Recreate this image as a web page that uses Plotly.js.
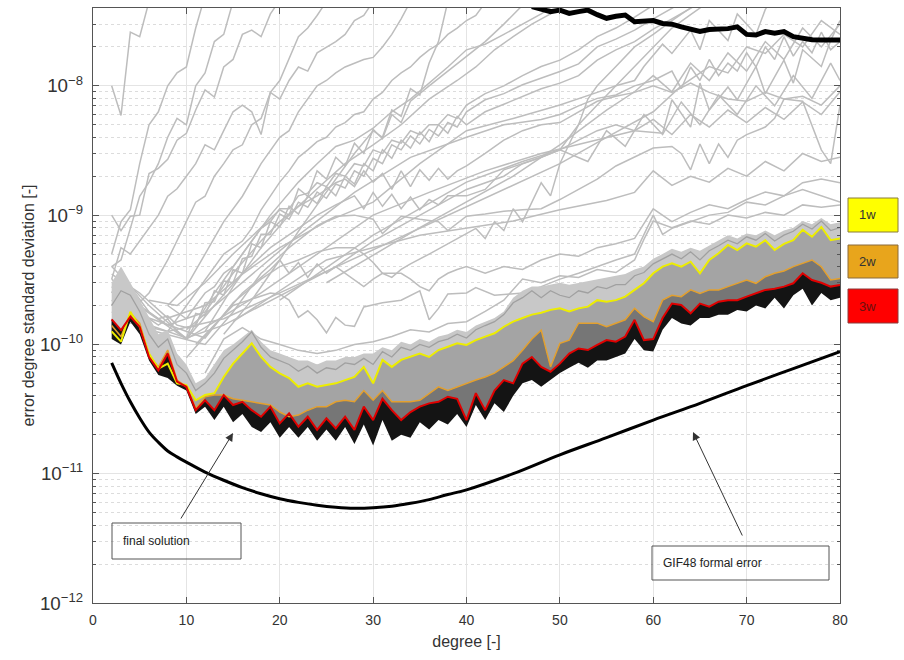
<!DOCTYPE html>
<html>
<head>
<meta charset="utf-8">
<script src="https://cdn.plot.ly/plotly-3.0.1.min.js"></script>
<style>html,body{margin:0;padding:0;background:#fff;}#chart{width:904px;height:660px;}</style>
</head>
<body>
<div id="chart"></div>
<script>
// ---------- data (degree vs error degree standard deviation) ----------
const deg = [2,3,4,5,6,7,8,9,10,11,12,13,14,15,16,17,18,19,20,21,22,23,24,25,26,27,28,29,30,31,32,33,34,35,36,37,38,39,40,41,42,43,44,45,46,47,48,49,50,51,52,53,54,55,56,57,58,59,60,61,62,63,64,65,66,67,68,69,70,71,72,73,74,75,76,77,78,79,80];

const series1w = [1.26e-10,1.05e-10,1.79e-10,1.37e-10,8.5e-11,6.5e-11,7.1e-11,5.0e-11,4.85e-11,3.7e-11,4.06e-11,4.2e-11,5.6e-11,7.1e-11,8.5e-11,1.02e-10,8.0e-11,6.7e-11,5.97e-11,5.5e-11,4.7e-11,5.0e-11,4.7e-11,4.85e-11,5.0e-11,5.3e-11,5.6e-11,6.7e-11,5.0e-11,7.6e-11,6.7e-11,7.6e-11,8.0e-11,8.5e-11,8.0e-11,9.05e-11,9.6e-11,1.02e-10,9.9e-11,1.08e-10,1.15e-10,1.22e-10,1.37e-10,1.5e-10,1.6e-10,1.7e-10,1.76e-10,1.85e-10,1.9e-10,1.8e-10,1.9e-10,1.96e-10,2.2e-10,2.14e-10,2.2e-10,2.34e-10,2.64e-10,2.97e-10,3.55e-10,4.0e-10,4.24e-10,3.99e-10,4.36e-10,3.55e-10,4.5e-10,5.07e-10,5.88e-10,5.37e-10,6.05e-10,5.7e-10,6.4e-10,5.37e-10,6.0e-10,6.4e-10,7.7e-10,6.8e-10,8.1e-10,6.4e-10,6.6e-10];

const series2w = [1.4e-10,1.15e-10,1.74e-10,1.46e-10,8.3e-11,6.7e-11,9.05e-11,5.3e-11,4.7e-11,3.2e-11,3.94e-11,4.06e-11,4.06e-11,3.8e-11,3.7e-11,3.6e-11,3.5e-11,3.4e-11,3.0e-11,2.76e-11,2.84e-11,3.1e-11,3.3e-11,3.3e-11,3.6e-11,3.7e-11,3.6e-11,4.4e-11,3.7e-11,4.4e-11,3.6e-11,3.6e-11,3.6e-11,3.7e-11,4.2e-11,4.7e-11,4.4e-11,4.7e-11,5.0e-11,5.3e-11,5.6e-11,6.0e-11,6.7e-11,7.5e-11,9.0e-11,1.1e-10,1.29e-10,6.7e-11,1.02e-10,1.08e-10,1.46e-10,1.46e-10,1.46e-10,1.37e-10,1.46e-10,1.55e-10,1.9e-10,1.64e-10,1.5e-10,2.2e-10,2.4e-10,2.34e-10,2.64e-10,2.48e-10,2.64e-10,2.64e-10,2.8e-10,2.97e-10,3.15e-10,2.97e-10,3.34e-10,3.55e-10,3.7e-10,4.0e-10,4.24e-10,4.5e-10,3.99e-10,3.15e-10,3.24e-10];

const series3w = [1.56e-10,1.29e-10,1.64e-10,1.37e-10,8.0e-11,6.3e-11,8.5e-11,5.15e-11,4.7e-11,3.1e-11,3.7e-11,3.1e-11,4.06e-11,3.4e-11,3.6e-11,3.1e-11,2.76e-11,3.3e-11,2.45e-11,2.93e-11,2.31e-11,2.76e-11,2.18e-11,2.68e-11,2.24e-11,2.76e-11,2.18e-11,3.3e-11,2.6e-11,3.8e-11,3.1e-11,2.6e-11,3.0e-11,3.3e-11,3.5e-11,3.6e-11,3.94e-11,3.8e-11,2.6e-11,4.2e-11,3.1e-11,4.4e-11,5.3e-11,5.0e-11,7.1e-11,8.0e-11,6.7e-11,6.15e-11,7.1e-11,8.5e-11,9.3e-11,9.05e-11,9.9e-11,1.08e-10,1.05e-10,1.15e-10,1.55e-10,1.08e-10,1.1e-10,1.6e-10,2.07e-10,2.02e-10,1.74e-10,2.07e-10,1.96e-10,2.14e-10,2.2e-10,2.2e-10,2.34e-10,2.5e-10,2.64e-10,2.7e-10,2.8e-10,2.97e-10,3.55e-10,3.15e-10,3.0e-10,2.8e-10,2.88e-10];

// upper edge of the dense bundle of intermediate solutions
const bundleTop = [3.0e-10,4.0e-10,3.0e-10,2.2e-10,1.6e-10,1.2e-10,1.3e-10,8.5e-11,7.0e-11,5.0e-11,5.5e-11,7.0e-11,9.0e-11,1.0e-10,1.15e-10,1.3e-10,1.05e-10,9.0e-11,8.5e-11,8.0e-11,7.5e-11,7.5e-11,7.0e-11,7.5e-11,7.5e-11,8.0e-11,8.0e-11,8.5e-11,8.5e-11,9.5e-11,9.0e-11,1.05e-10,1.0e-10,1.1e-10,1.05e-10,1.15e-10,1.2e-10,1.3e-10,1.25e-10,1.4e-10,1.5e-10,1.6e-10,1.8e-10,2.3e-10,2.6e-10,2.8e-10,2.8e-10,2.9e-10,3.0e-10,2.9e-10,3.0e-10,3.1e-10,3.2e-10,3.3e-10,3.4e-10,3.5e-10,3.8e-10,4.0e-10,4.6e-10,5.0e-10,5.5e-10,5.2e-10,5.6e-10,5.3e-10,5.8e-10,6.3e-10,7.0e-10,6.6e-10,7.2e-10,7.0e-10,7.6e-10,7.0e-10,7.6e-10,8.0e-10,9.0e-10,8.5e-10,9.5e-10,8.5e-10,8.8e-10];

// lower edge of the darkest (latest) solutions
const bundleBottom = [1.1e-10,1.0e-10,1.5e-10,1.2e-10,7.5e-11,5.8e-11,5.5e-11,4.8e-11,4.4e-11,2.9e-11,3.3e-11,2.6e-11,3.3e-11,2.5e-11,2.9e-11,2.3e-11,2.1e-11,2.5e-11,1.9e-11,2.3e-11,1.9e-11,2.3e-11,1.8e-11,2.2e-11,1.8e-11,2.3e-11,1.7e-11,2.4e-11,1.65e-11,2.6e-11,1.8e-11,2.0e-11,1.9e-11,2.5e-11,2.2e-11,2.6e-11,2.4e-11,2.9e-11,2.3e-11,3.4e-11,2.6e-11,3.5e-11,3.0e-11,4.0e-11,5.0e-11,5.3e-11,4.7e-11,5.3e-11,6.0e-11,6.6e-11,7.2e-11,6.6e-11,7.5e-11,7.5e-11,8.0e-11,8.5e-11,1.1e-10,9.0e-11,8.8e-11,1.3e-10,1.6e-10,1.45e-10,1.4e-10,1.6e-10,1.6e-10,1.7e-10,1.7e-10,1.85e-10,1.8e-10,2.0e-10,1.9e-10,2.3e-10,1.9e-10,2.4e-10,2.7e-10,2.0e-10,2.5e-10,2.2e-10,2.3e-10];

// a gray solution just above the 1w curve
const b1y = [2.0e-10,2.6e-10,2.4e-10,1.8e-10,1.2e-10,9.5e-11,1.1e-10,7.0e-11,6.0e-11,4.4e-11,5.0e-11,6.0e-11,7.8e-11,9.0e-11,1.05e-10,1.25e-10,9.5e-11,8.0e-11,7.5e-11,7.0e-11,6.2e-11,6.8e-11,6.0e-11,6.6e-11,6.4e-11,7.2e-11,7.0e-11,7.8e-11,7.0e-11,8.8e-11,8.0e-11,9.5e-11,9.0e-11,1.0e-10,9.5e-11,1.05e-10,1.1e-10,1.2e-10,1.12e-10,1.3e-10,1.4e-10,1.5e-10,1.7e-10,2.1e-10,2.3e-10,2.6e-10,2.3e-10,2.6e-10,2.4e-10,2.3e-10,2.6e-10,2.5e-10,2.8e-10,2.7e-10,2.9e-10,2.9e-10,3.4e-10,3.6e-10,4.2e-10,4.6e-10,5.0e-10,4.6e-10,5.2e-10,4.5e-10,5.3e-10,5.8e-10,6.4e-10,6.0e-10,6.8e-10,6.4e-10,7.2e-10,6.3e-10,7.0e-10,7.5e-10,8.5e-10,7.8e-10,9.0e-10,7.6e-10,8.0e-10];
// spiky gray solution above the bundle
const b0x = [12,14,16,18,20,22,24,26,28,30,32,34,36,38,40,42,44,46,48,50,52,54,56,58,59,60,62,64,66,68,70,72,74,76,78,80];
const b0y = [6.0e-11,1.1e-10,1.35e-10,1.1e-10,1.0e-10,9.0e-11,8.5e-11,9.0e-11,1.0e-10,1.05e-10,1.15e-10,1.3e-10,1.25e-10,1.45e-10,1.5e-10,1.8e-10,2.2e-10,3.2e-10,3.0e-10,3.4e-10,3.3e-10,3.8e-10,3.6e-10,4.5e-10,6.5e-10,9.0e-10,8.0e-10,9.0e-10,8.5e-10,1.0e-9,9.5e-10,1.05e-9,1.0e-9,1.2e-9,1.15e-9,1.2e-9];

// GIF48 formal error
const gifDeg = [2,3,4,5,6,7,8,9,10,12,14,16,18,20,22,24,26,28,30,32,34,36,38,40,45,50,55,60,65,70,75,80];
const gifErr = [7.2e-11,5.0e-11,3.6e-11,2.7e-11,2.1e-11,1.75e-11,1.5e-11,1.35e-11,1.23e-11,1.03e-11,8.9e-12,7.8e-12,7.0e-12,6.4e-12,6.0e-12,5.7e-12,5.5e-12,5.4e-12,5.45e-12,5.6e-12,5.9e-12,6.3e-12,6.9e-12,7.5e-12,1.0e-11,1.4e-11,1.9e-11,2.6e-11,3.5e-11,4.8e-11,6.5e-11,8.8e-11];

// thick black curve at the top
const topDeg = [47,48,49,50,51,52,53,54,55,56,57,58,59,60,61,62,63,64,65,66,67,68,69,70,71,72,73,74,75,76,77,78,79,80];
const topErr = [4.1e-8,3.95e-8,3.75e-8,3.85e-8,3.63e-8,3.75e-8,3.85e-8,3.55e-8,3.33e-8,3.45e-8,3.53e-8,3.13e-8,3.2e-8,3.2e-8,3.04e-8,3.0e-8,2.86e-8,2.75e-8,2.63e-8,2.73e-8,2.75e-8,2.77e-8,2.86e-8,2.5e-8,2.47e-8,2.63e-8,2.55e-8,2.63e-8,2.4e-8,2.33e-8,2.27e-8,2.26e-8,2.26e-8,2.26e-8];

// individual early solutions (gray)
const g1x = [2,3,4,5,6];
const g1y = [1.0e-8,5.9e-9,2.6e-8,2.4e-8,4.5e-8];
const g2x = [2,3,4,5,6,7,8,9,10,11,12];
const g2y = [5.0e-10,8.9e-10,1.1e-9,2.5e-9,5.0e-9,6.3e-9,1.0e-8,1.26e-8,1.4e-8,2.8e-8,5.0e-8];
const g3x = [2,3,4,5,6,7,8,9,10,11,12,13,14,15];
const g3y = [4.0e-10,4.5e-10,7.9e-10,1.4e-9,1.8e-9,2.5e-9,4.0e-9,5.6e-9,5.0e-9,1.0e-8,1.26e-8,2.2e-8,2.5e-8,4.5e-8];
const g4x = [2,3,4,5,6,7,8,9,10,11,12,13,14,15,16,17,18,19,20,21,22,23,24,25];
const g4y = [3.2e-10,5.6e-10,5.0e-10,6.3e-10,7.9e-10,1.0e-9,1.4e-9,1.6e-9,2.0e-9,2.5e-9,3.5e-9,3.2e-9,4.5e-9,6.3e-9,7.1e-9,6.3e-9,4.2e-9,8.9e-9,1.1e-8,1.6e-8,2.4e-8,2.8e-8,3.5e-8,4.5e-8];
const g5x = [2,3,4,5,6,7,8,9,10,11,12,13,14,15,16,17,18,19,20];
const g5y = [1.0e-9,7.6e-10,9.8e-10,1.0e-9,2.1e-9,2.3e-9,2.7e-9,3.8e-9,4.3e-9,6.5e-9,9.3e-9,8.2e-9,1.4e-8,1.6e-8,2.5e-8,2.7e-8,2.4e-8,3.6e-8,4.6e-8];
const g6x = [4,6,8,10,11,12,13,14,15,16,17,18,19,20,21,22,23,24,25,26,27,28,29,30];
const g6y = [1.8e-10,2.5e-10,4.5e-10,8.9e-10,1.26e-9,1.4e-9,2.0e-9,2.5e-9,3.2e-9,3.5e-9,5.0e-9,5.6e-9,8.9e-9,7.9e-9,1.1e-8,1.4e-8,1.3e-8,1.8e-8,2.0e-8,2.2e-8,2.5e-8,3.2e-8,3.5e-8,4.5e-8];
const g7x = [8,10,12,14,16,18,20,21,22,23,24,25,26,27,28,29,30,31,32,33,34];
const g7y = [2.0e-10,2.8e-10,5.0e-10,8.9e-10,1.4e-9,2.5e-9,4.0e-9,4.5e-9,6.3e-9,7.9e-9,1.0e-8,1.1e-8,1.26e-8,1.4e-8,1.5e-8,1.6e-8,1.66e-8,2.0e-8,2.5e-8,3.3e-8,4.5e-8];
const g8x = [8,10,12,14,16,17,18,19,20,21,22,23,24,25,26,27,28,29,30,31,32,33,34,35,36,37,38,39,40,41,42];
const g8y = [1.26e-10,2.0e-10,3.2e-10,5.0e-10,6.3e-10,7.9e-10,1.1e-9,1.4e-9,1.8e-9,2.2e-9,2.8e-9,3.2e-9,3.7e-9,4.0e-9,4.8e-9,5.2e-9,6.0e-9,6.3e-9,7.9e-9,8.9e-9,1.1e-8,1.26e-8,1.4e-8,1.66e-8,1.9e-8,2.1e-8,2.5e-8,2.8e-8,3.2e-8,3.5e-8,4.4e-8];
const g9x = [10,13,16,19,22,24,26,28,30,32,34,36,38,40,42,44,46,48,50];
const g9y = [1.1e-10,2.5e-10,5.0e-10,1.0e-9,1.8e-9,2.5e-9,3.4e-9,3.8e-9,4.7e-9,6.3e-9,7.9e-9,1.05e-8,1.4e-8,1.9e-8,2.1e-8,2.5e-8,3.0e-8,3.6e-8,4.5e-8];
const g10x = [12,15,18,21,24,27,30,33,36,39,41,43,45,47,49,51];
const g10y = [1.26e-10,2.8e-10,5.6e-10,1.0e-9,1.6e-9,2.5e-9,3.5e-9,5.0e-9,7.9e-9,1.1e-8,1.4e-8,1.9e-8,2.4e-8,3.0e-8,3.6e-8,4.5e-8];
const g11x = [2,3,4,5,6,7,8,9,10,11,12,13,14,15,16,17,18,19,20,21,22,23,24,25,26,27,28,29,30,31,32,33,34,35,36,37,38,39,40,42,44,46,48,50,52,54,56,58,60,62,64];
const g11y = [2.5e-10,3.55e-10,2.8e-10,2.24e-10,1.78e-10,1.58e-10,1.66e-10,1.41e-10,1.35e-10,1.38e-10,2.1e-10,2.14e-10,3.1e-10,3.0e-10,4.6e-10,4.8e-10,7.1e-10,7.1e-10,1.02e-9,9.3e-10,1.26e-9,1.15e-9,1.51e-9,1.35e-9,1.74e-9,1.62e-9,2.2e-9,2.0e-9,2.75e-9,2.5e-9,3.5e-9,3.2e-9,4.1e-9,3.55e-9,4.6e-9,4.1e-9,5.2e-9,4.8e-9,6.3e-9,7.8e-9,8.7e-9,1.02e-8,1.15e-8,1.29e-8,1.48e-8,2.0e-8,2.3e-8,2.7e-8,3.3e-8,4.0e-8,4.8e-8];
const g12x = [2,3,4,5,6,7,8,9,10,11,12,13,14,15,16,17,18,19,20,21,22,23,24,25,26,27,28,29,30,31,32,33,34,35,36,37,38,39,40,42,44,46,48,50,52,54,56,58,60,62,64,66];
const g12y = [2.0e-10,2.8e-10,2.5e-10,1.9e-10,1.58e-10,1.41e-10,1.58e-10,1.26e-10,1.12e-10,1.74e-10,1.66e-10,2.6e-10,2.4e-10,3.8e-10,3.55e-10,6.0e-10,5.6e-10,8.9e-10,8.1e-10,1.17e-9,1.02e-9,1.41e-9,1.23e-9,1.66e-9,1.41e-9,2.0e-9,1.74e-9,2.5e-9,2.2e-9,3.2e-9,2.75e-9,3.8e-9,3.3e-9,4.4e-9,3.7e-9,5.0e-9,4.3e-9,5.8e-9,5.0e-9,6.3e-9,7.2e-9,8.3e-9,9.5e-9,1.05e-8,1.2e-8,1.58e-8,1.9e-8,2.2e-8,2.75e-8,3.3e-8,4.0e-8,4.8e-8];
const g13x = [8,9,10,11,12,13,14,15,16,17,18,19,20,21,22,23,24,25,26,27,28,29,30,31,32,33,34,35,36,37,38,39,40,42,44,46,48,50,52,54,56,58,60];
const g13y = [2.0e-10,1.78e-10,1.58e-10,2.0e-10,2.5e-10,2.8e-10,3.55e-10,4.0e-10,5.0e-10,6.3e-10,7.9e-10,8.9e-10,1.12e-9,1.12e-9,1.41e-9,1.48e-9,1.78e-9,1.66e-9,2.1e-9,2.0e-9,2.5e-9,2.4e-9,3.2e-9,3.0e-9,3.8e-9,3.6e-9,4.5e-9,4.2e-9,5.0e-9,5.0e-9,6.0e-9,5.6e-9,7.1e-9,8.7e-9,1.0e-8,1.2e-8,1.41e-8,1.58e-8,1.9e-8,2.4e-8,2.8e-8,3.4e-8,4.2e-8];
const n1x = [6,9,12,15,18,20,21,22,23,24,25,26,27,28,29,30,31,32,33,34,36,38,40,42,44,46];
const n1y = [2.2e-10,2.0e-10,3.0e-10,5.0e-10,8.0e-10,1.1e-9,1.0e-9,1.6e-9,1.4e-9,2.2e-9,1.9e-9,2.8e-9,2.4e-9,3.6e-9,3.0e-9,4.6e-9,3.9e-9,6.0e-9,5.2e-9,7.6e-9,1.0e-8,1.3e-8,1.7e-8,2.2e-8,3.0e-8,4.2e-8];
const n2x = [10,16,22,28,34,40,44,48,50,52,54,56,58,60,62,63,64,65,66,67,68,69,70,71,72,73,74,75,76,77,78,79,80];
const n2y = [1.3e-10,3.0e-10,7.0e-10,1.5e-9,2.8e-9,4.0e-9,5.0e-9,5.5e-9,6.0e-9,7.0e-9,8.0e-9,8.5e-9,1.0e-8,1.1e-8,1.3e-8,9.5e-9,1.4e-8,1.1e-8,1.6e-8,1.2e-8,1.5e-8,1.3e-8,1.8e-8,1.4e-8,2.0e-8,1.6e-8,2.4e-8,1.7e-8,2.2e-8,1.8e-8,2.6e-8,1.9e-8,2.2e-8];
const n3x = [4,10,18,24,30,36,42,48,54,58,60,62,64,66,68,70,72,74,76,78,80];
const n3y = [2.2e-10,1.1e-10,2.5e-10,5.0e-10,1.0e-9,1.5e-9,2.2e-9,3.0e-9,3.8e-9,4.5e-9,5.5e-9,4.2e-9,6.0e-9,4.8e-9,6.5e-9,5.2e-9,6.8e-9,5.5e-9,7.5e-9,6.0e-9,9.0e-9];
const p1x = [14,17,20,22,24,26,28,30,31,32,33,34,35,36,37,38];
const p1y = [1.2e-10,2.2e-10,4.5e-10,7.5e-10,1.2e-9,1.9e-9,3.0e-9,4.5e-9,4.0e-9,6.5e-9,5.8e-9,9.5e-9,8.5e-9,1.5e-8,2.2e-8,4.5e-8];
const p2x = [20,30,40,46,50,53,55,57,59,61,63,65,67,69,71,73,75,77,79,80];
const p2y = [2.2e-10,7.0e-10,1.8e-9,2.6e-9,3.2e-9,2.6e-9,4.5e-9,3.4e-9,6.0e-9,4.2e-9,7.5e-9,5.0e-9,8.5e-9,6.0e-9,1.0e-8,7.0e-9,1.2e-8,8.0e-9,1.5e-8,1.1e-8];
const p3x = [25,35,45,50,55,58,60,62,64,66,68,70,72,74,76,78,80];
const p3y = [3.0e-10,8.0e-10,2.0e-9,3.5e-9,6.5e-9,9.0e-9,1.2e-8,9.0e-9,1.5e-8,1.1e-8,1.8e-8,1.3e-8,2.2e-8,1.6e-8,2.8e-8,2.0e-8,3.0e-8];
const p4x = [15,25,35,45,50,55,58,60,62,64,66,68,70,72,74,76,78,80];
const p4y = [1.5e-10,4.5e-10,7.0e-10,9.0e-10,1.1e-9,1.3e-9,1.5e-9,2.2e-9,1.7e-9,2.0e-9,1.8e-9,2.3e-9,2.0e-9,2.6e-9,2.2e-9,3.0e-9,2.6e-9,2.8e-9];
const m1x = [2,5,8,12,15,18,20,22,24,26,27,28,29,30,31,32,33,34,35,36,37,38,39,40,42,44,46,48,50,52,54,56,58,60,62,64,66,68,70,72,74,76,78,80];
const m1y = [3.2e-10,2.0e-10,1.41e-10,1.78e-10,3.55e-10,6.3e-10,8.9e-10,1.17e-9,1.41e-9,1.78e-9,1.9e-9,1.66e-9,2.2e-9,1.8e-9,2.1e-9,1.58e-9,2.2e-9,1.66e-9,2.24e-9,1.86e-9,2.3e-9,1.9e-9,2.2e-9,2.4e-9,3.0e-9,3.8e-9,4.5e-9,5.0e-9,5.2e-9,6.3e-9,7.6e-9,8.3e-9,8.9e-9,1.0e-8,8.9e-9,1.05e-8,8.9e-9,7.9e-9,7.6e-9,8.9e-9,7.9e-9,8.3e-9,7.1e-9,1.0e-8];
const m2x = [2,6,10,13,16,19,22,24,26,28,29,30,31,32,33,34,35,36,37,38,40,42,44,46,48,50,52,53,54,56,58,60,62,64];
const m2y = [4.0e-10,2.0e-10,1.1e-10,2.0e-10,3.55e-10,5.6e-10,7.9e-10,1.0e-9,1.2e-9,1.41e-9,1.12e-9,1.5e-9,1.17e-9,1.45e-9,1.12e-9,1.38e-9,1.1e-9,1.32e-9,1.2e-9,1.41e-9,1.41e-9,1.58e-9,2.24e-9,2.5e-9,2.8e-9,3.2e-9,5.0e-9,7.9e-9,1.0e-8,1.41e-8,2.0e-8,2.5e-8,3.2e-8,4.0e-8];
const m3x = [2,6,12,15,18,21,24,26,28,30,31,33,35,37,38,40,42,44,46,48,50,52,54,56,58,60,62,63,64,65,66,67,68,69,70,72,73,74,76,78,79,80];
const m3y = [2.2e-10,1.3e-10,1.0e-10,1.78e-10,3.55e-10,5.6e-10,8.3e-10,9.8e-10,1.0e-9,9.3e-10,7.2e-10,9.8e-10,9.3e-10,8.9e-10,7.6e-10,9.8e-10,1.02e-9,1.07e-9,1.1e-9,1.12e-9,1.32e-9,1.58e-9,1.9e-9,2.4e-9,2.8e-9,3.3e-9,3.4e-9,3.0e-9,2.24e-9,3.55e-9,2.5e-9,3.55e-9,2.8e-9,3.8e-9,4.2e-9,4.8e-9,5.6e-9,7.9e-9,7.6e-9,3.2e-9,2.5e-9,7.1e-9];
const m4x = [2,6,12,15,18,20,22,24,26,28,29,30,31,32,33,34,36,38,40,41,42,43,44,45,46,47,48,49,50,51,52,54,56,58,60,62,64,66];
const m4y = [2.8e-10,1.6e-10,1.12e-10,2.1e-10,3.2e-10,4.0e-10,4.5e-10,5.2e-10,5.6e-10,5.6e-10,5.0e-10,4.3e-10,3.55e-10,3.3e-10,3.8e-10,4.2e-10,5.0e-10,6.0e-10,7.2e-10,7.9e-10,6.6e-10,8.9e-10,7.6e-10,1.12e-9,8.9e-10,1.26e-9,1.78e-9,1.41e-9,2.5e-9,3.55e-9,5.0e-9,7.1e-9,1.0e-8,1.41e-8,2.0e-8,2.8e-8,3.55e-8,4.5e-8];
const m5x = [10,13,16,18,19,20,21,22,23,24,25,26,27,28,29,30,31,33,34,35,36,37,38,39,40,42,44,46,48,50,52,54,56,58,60,62,64,66,68,70,72,74,76,78,80];
const m5y = [7.9e-11,1.41e-10,2.5e-10,3.3e-10,3.8e-10,4.5e-10,3.55e-10,4.3e-10,3.3e-10,4.2e-10,3.55e-10,4.0e-10,3.55e-10,3.2e-10,2.8e-10,3.2e-10,3.55e-10,3.55e-10,3.2e-10,2.8e-10,2.6e-10,3.2e-10,3.55e-10,3.8e-10,4.0e-10,3.55e-10,4.0e-10,3.8e-10,4.5e-10,5.0e-10,4.8e-10,5.6e-10,6.0e-10,6.6e-10,1.12e-9,8.9e-10,1.05e-9,1.2e-9,1.12e-9,1.32e-9,1.51e-9,1.41e-9,1.78e-9,1.9e-9,1.78e-9];
const m6x = [11,13,15,17,19,20,21,22,23,24,25,26,27,28,29,31,33,35,36,37,38,40,41,43,46,48,50,52,54,56,58,60,61,62,64,66,68,70,72,74,76,78,80];
const m6y = [1.0e-10,1.41e-10,2.0e-10,2.24e-10,2.5e-10,2.45e-10,2.2e-10,1.62e-10,1.82e-10,1.55e-10,1.23e-10,1.62e-10,1.41e-10,1.38e-10,1.95e-10,2.1e-10,2.2e-10,2.6e-10,1.55e-10,1.9e-10,2.45e-10,2.5e-10,2.75e-10,2.4e-10,2.5e-10,2.8e-10,3.2e-10,3.55e-10,4.0e-10,4.5e-10,5.0e-10,1.0e-9,7.1e-10,7.9e-10,8.9e-10,1.0e-9,1.05e-9,1.26e-9,1.2e-9,1.41e-9,1.58e-9,1.41e-9,1.26e-9];
const r1x = [2,5,8,12,16,20,25,30,35,40,45,50,54,56,58,59,61,62,64,65,66,68,69,71,72,73];
const r1y = [3.5e-10,2.5e-10,1.6e-10,2.0e-10,3.5e-10,5.6e-10,8.9e-10,1.26e-9,2.5e-9,4.5e-9,5.6e-9,7.1e-9,8.9e-9,1.0e-8,1.1e-8,1.41e-8,2.1e-8,1.78e-8,2.7e-8,1.9e-8,3.2e-8,2.24e-8,3.6e-8,2.5e-8,3.9e-8,5.0e-8];
const r2x = [2,6,10,14,18,22,26,30,35,40,44,46,48,50,52,54,56,58,61,62,64,65,66,68,69,71,72,74,75,76,78,79,80];
const r2y = [1.78e-10,1.41e-10,1.12e-10,1.41e-10,2.0e-10,2.8e-10,4.0e-10,6.3e-10,1.0e-9,1.58e-9,2.0e-9,2.5e-9,2.8e-9,3.2e-9,3.8e-9,4.5e-9,5.0e-9,4.5e-9,4.3e-9,7.8e-9,4.8e-9,1.05e-8,6.5e-9,9.8e-9,7.8e-9,1.41e-8,8.7e-9,1.58e-8,1.05e-8,1.9e-8,1.41e-8,2.24e-8,3.2e-8];
const r3x = [2,8,14,20,26,32,38,44,50,55,60,63,66,68,70,72,74,76,78,80];
const r3y = [1.58e-10,1.26e-10,1.58e-10,2.5e-10,4.0e-10,6.3e-10,1.0e-9,1.58e-9,2.5e-9,4.0e-9,6.3e-9,1.0e-8,1.41e-8,1.26e-8,2.0e-8,1.78e-8,2.5e-8,2.0e-8,3.2e-8,2.5e-8];

// ---------- traces ----------
const grayColor = '#bdbdbd';
const traces = [];
const grayLines = [[g1x,g1y],[g2x,g2y],[g3x,g3y],[g4x,g4y],[g5x,g5y],[g6x,g6y],[g7x,g7y],[g8x,g8y],[g9x,g9y],[g10x,g10y],[g11x,g11y],[g12x,g12y],[g13x,g13y],[n1x,n1y],[n2x,n2y],[n3x,n3y],[p1x,p1y],[p2x,p2y],[p3x,p3y],[p4x,p4y],[m1x,m1y],[m2x,m2y],[m3x,m3y],[m4x,m4y],[m5x,m5y],[m6x,m6y],[r1x,r1y],[r2x,r2y],[r3x,r3y],[b0x,b0y]];
grayLines.forEach(function(p){
  traces.push({x:p[0], y:p[1], type:'scatter', mode:'lines', line:{color:grayColor, width:1.5}, hoverinfo:'skip'});
});
const noLine = {width:0, color:'rgba(0,0,0,0)'};
// dense bundle as stacked bands (light gray -> dark -> black)
traces.push({x:deg, y:bundleTop, type:'scatter', mode:'lines', line:noLine, hoverinfo:'skip'});
traces.push({x:deg, y:series1w, type:'scatter', mode:'lines', fill:'tonexty', fillcolor:'#c8c8c8', line:noLine, hoverinfo:'skip'});
traces.push({x:deg, y:series2w, type:'scatter', mode:'lines', fill:'tonexty', fillcolor:'#a4a4a4', line:noLine, hoverinfo:'skip'});
traces.push({x:deg, y:series3w, type:'scatter', mode:'lines', fill:'tonexty', fillcolor:'#767676', line:noLine, hoverinfo:'skip'});
traces.push({x:deg, y:bundleBottom, type:'scatter', mode:'lines', fill:'tonexty', fillcolor:'#141414', line:noLine, hoverinfo:'skip'});
traces.push({x:deg, y:b1y, type:'scatter', mode:'lines', line:{color:'#a0a0a0', width:1.3}, hoverinfo:'skip'});
// GIF48 and top curve
traces.push({x:gifDeg, y:gifErr, type:'scatter', mode:'lines', line:{color:'#000', width:3, shape:'spline'}, hoverinfo:'skip'});
traces.push({x:topDeg, y:topErr, type:'scatter', mode:'lines', line:{color:'#000', width:5}, hoverinfo:'skip'});
// highlighted solutions
traces.push({x:deg, y:series2w, type:'scatter', mode:'lines', name:'2w', line:{color:'#e3a02e', width:1.5}});
traces.push({x:deg, y:series1w, type:'scatter', mode:'lines', name:'1w', line:{color:'#eded00', width:2}});
traces.push({x:deg, y:series3w, type:'scatter', mode:'lines', name:'3w', line:{color:'#e00000', width:2}});

// ---------- layout ----------
const L = 93, R = 840, T = 8, B = 603;
function px(x){ return (x - L) / (R - L); }
function py(y){ return (B - y) / (B - T); }

const layout = {
  width: 904, height: 660,
  margin: {l:93, r:64, t:8, b:57, pad:0},
  paper_bgcolor:'#ffffff', plot_bgcolor:'#ffffff',
  font: {family:'Liberation Sans, Arial, sans-serif', color:'#262626', size:14},
  showlegend:false,
  xaxis: {
    range:[0,80], tick0:0, dtick:10, ticks:'inside', ticklen:6, tickcolor:'#555',
    showline:true, linecolor:'#555', linewidth:1, mirror:'ticks',
    showgrid:true, gridcolor:'#e4e4e4', gridwidth:1, zeroline:false,
    tickfont:{size:14, color:'#333'}, ticklabelstandoff:4,
    title:{text:'degree [-]', font:{size:16, color:'#333'}, standoff:9}
  },
  yaxis: {
    type:'log', range:[-12, Math.log10(4e-8)], dtick:1, exponentformat:'power',
    ticks:'inside', ticklen:6, tickcolor:'#555',
    showline:true, linecolor:'#555', linewidth:1, mirror:'ticks',
    showgrid:true, gridcolor:'#e4e4e4', gridwidth:1, zeroline:false,
    tickfont:{size:15, color:'#333'}, ticklabelstandoff:6,
    minor:{dtick:'D1', ticks:'inside', ticklen:3, tickcolor:'#555', showgrid:true, gridcolor:'#dcdcdc', griddash:'dot', gridwidth:1},
    title:{text:'error degree standard deviation [-]', font:{size:16, color:'#333'}, standoff:1}
  },
  shapes: [
    {type:'rect', xref:'paper', yref:'paper', x0:px(112), x1:px(241), y0:py(559), y1:py(523), line:{color:'#555', width:1}, fillcolor:'rgba(0,0,0,0)'},
    {type:'rect', xref:'paper', yref:'paper', x0:px(652), x1:px(829), y0:py(580), y1:py(546), line:{color:'#555', width:1}, fillcolor:'rgba(0,0,0,0)'},
    {type:'rect', xref:'paper', yref:'paper', x0:px(848), x1:px(898), y0:py(232), y1:py(198), line:{color:'#8a7d3a', width:1}, fillcolor:'#ffff00'},
    {type:'rect', xref:'paper', yref:'paper', x0:px(848), x1:px(898), y0:py(278), y1:py(245), line:{color:'#8a6a3a', width:1}, fillcolor:'#e8a51c'},
    {type:'rect', xref:'paper', yref:'paper', x0:px(848), x1:px(898), y0:py(323), y1:py(289), line:{color:'#8a3a3a', width:1}, fillcolor:'#ff0000'}
  ],
  annotations: [
    {xref:'paper', yref:'paper', x:px(121), y:py(541), xanchor:'left', yanchor:'middle', text:'final solution', showarrow:false, font:{size:12, color:'#222'}},
    {xref:'paper', yref:'paper', x:px(661), y:py(563), xanchor:'left', yanchor:'middle', text:'GIF48 formal error', showarrow:false, font:{size:12, color:'#222'}},
    {xref:'paper', yref:'paper', x:px(233), y:py(433), text:'', showarrow:true, arrowhead:2, arrowsize:1.6, arrowwidth:1, arrowcolor:'#333', ax:-53, ay:87},
    {xref:'paper', yref:'paper', x:px(693), y:py(432), text:'', showarrow:true, arrowhead:2, arrowsize:1.6, arrowwidth:1, arrowcolor:'#333', ax:50, ay:105},
    {xref:'paper', yref:'paper', x:px(857), y:py(214), xanchor:'left', yanchor:'middle', text:'1w', showarrow:false, font:{size:13, color:'#333'}},
    {xref:'paper', yref:'paper', x:px(857), y:py(261), xanchor:'left', yanchor:'middle', text:'2w', showarrow:false, font:{size:13, color:'#333'}},
    {xref:'paper', yref:'paper', x:px(857), y:py(306), xanchor:'left', yanchor:'middle', text:'3w', showarrow:false, font:{size:13, color:'#6a1010'}}
  ]
};

Plotly.newPlot('chart', traces, layout, {staticPlot:true, displayModeBar:false});
</script>
</body>
</html>
